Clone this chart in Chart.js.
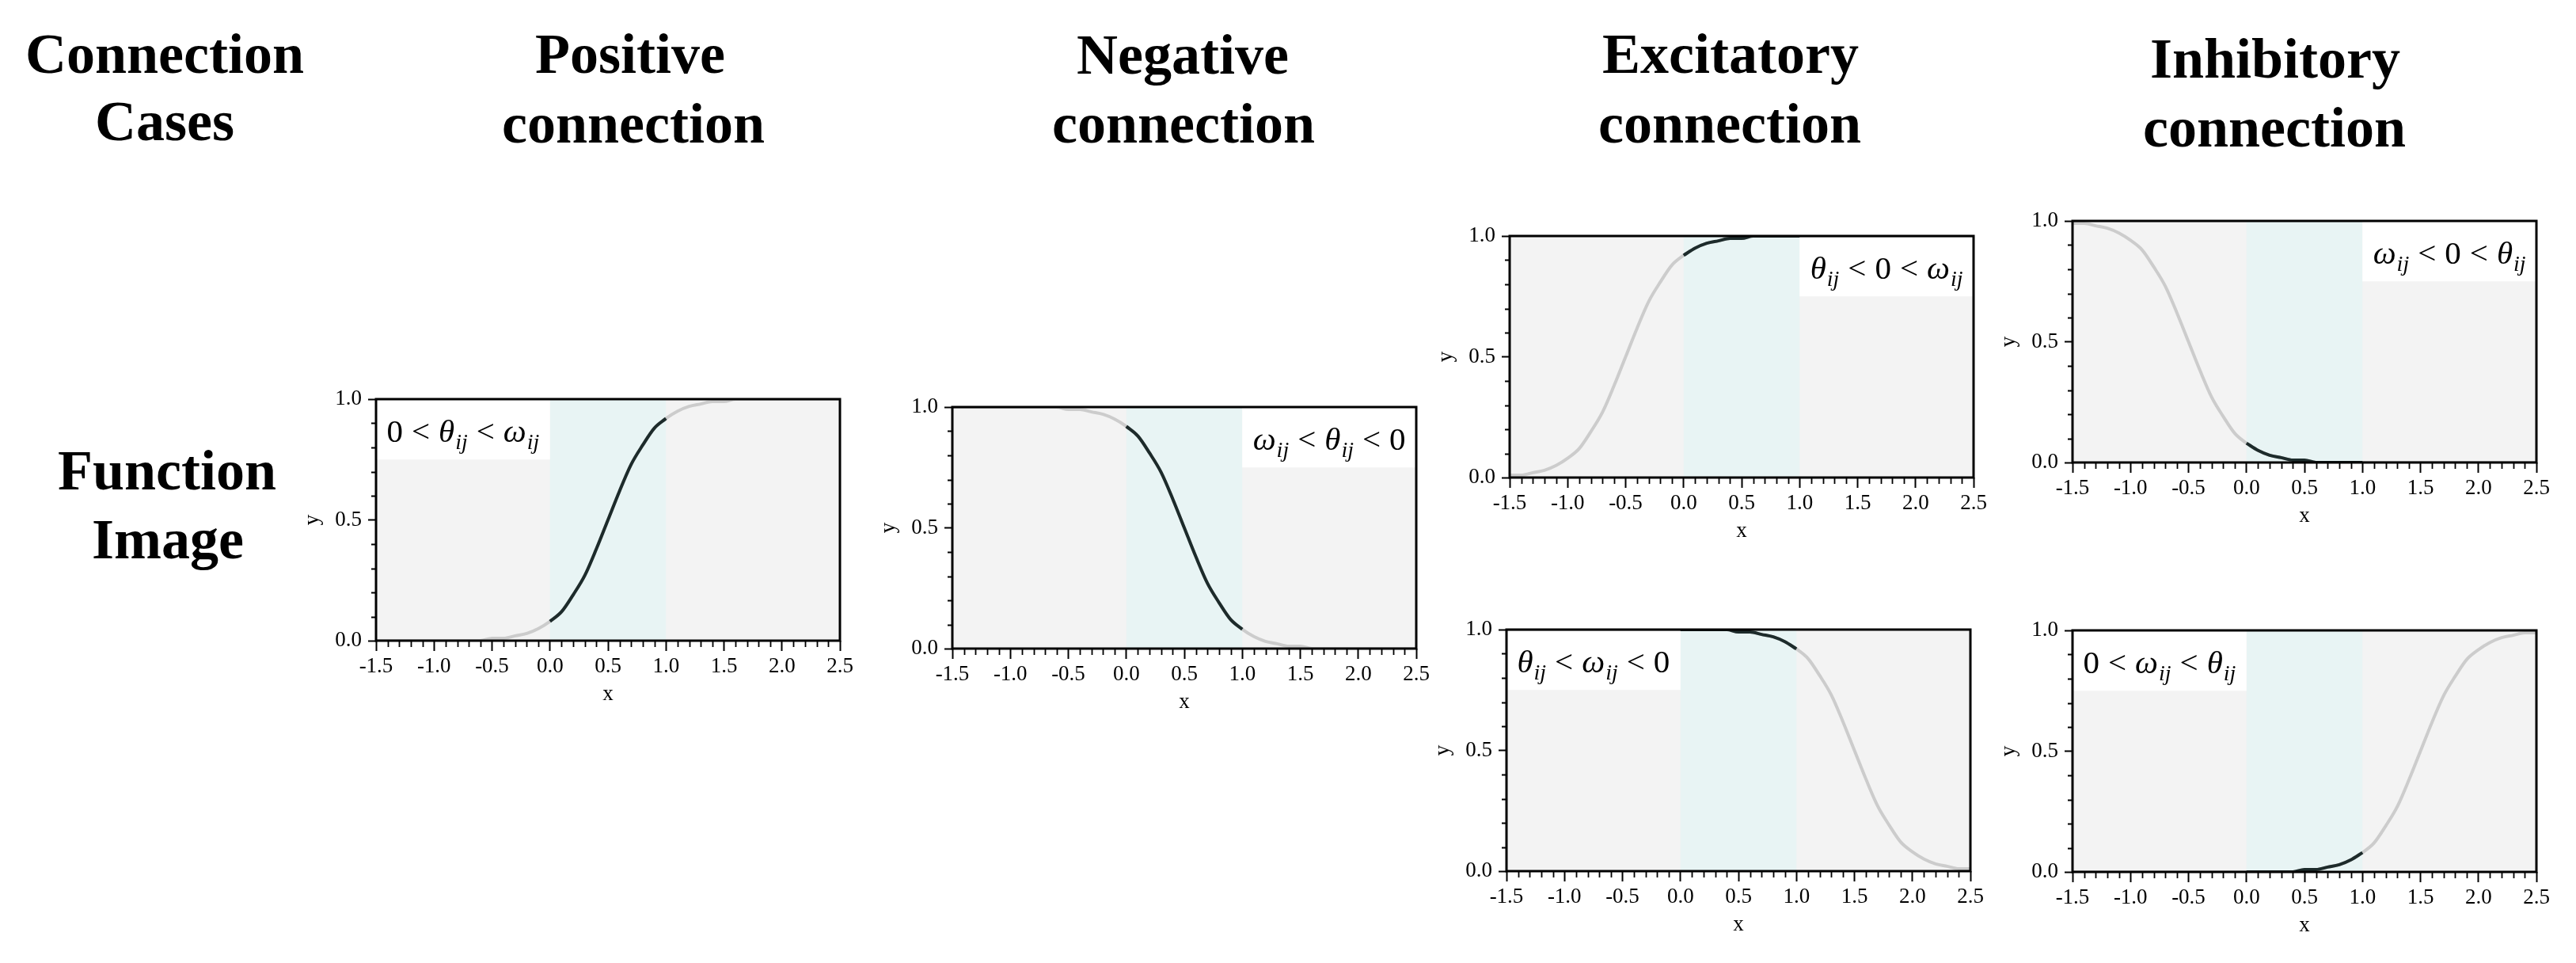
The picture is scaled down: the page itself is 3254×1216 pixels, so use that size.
<!DOCTYPE html>
<html>
<head>
<meta charset="utf-8">
<script src="https://cdn.jsdelivr.net/npm/chart.js@4.4.0/dist/chart.umd.min.js"></script>
<style>
  body { margin: 0; background: #fff; width: 3254px; height: 1216px; position: relative; overflow: hidden; font-family: "Liberation Serif", "Times New Roman", serif; }
  .head { position: absolute; font-weight: bold; font-size: 72px; line-height: 72px; white-space: nowrap; transform: translateX(-50%); color: #000; }
  .panel { position: absolute; }
</style>
</head>
<body>
<script>
const xValues = [
  -1.5, -1.4, -1.3, -1.2, -1.1, -1.0, -0.9, -0.8, -0.7, -0.6,
  -0.5, -0.4, -0.3, -0.2, -0.1, 0.0, 0.1, 0.2, 0.3, 0.4,
  0.5, 0.6, 0.7, 0.8, 0.9, 1.0, 1.1, 1.2, 1.3, 1.4,
  1.5, 1.6, 1.7, 1.8, 1.9, 2.0, 2.1, 2.2, 2.3, 2.4, 2.5
]

// y values per case
const positiveValues = [
  0.00, 0.00, 0.00, 0.00, 0.00, 0.00, 0.00, 0.00, 0.00, 0.00,
  0.01, 0.01, 0.02, 0.03, 0.05, 0.08, 0.12, 0.19, 0.27, 0.38,
  0.50, 0.62, 0.73, 0.81, 0.88, 0.92, 0.95, 0.97, 0.98, 0.99,
  0.99, 1.00, 1.00, 1.00, 1.00, 1.00, 1.00, 1.00, 1.00, 1.00, 1.00
]
const negativeValues = [
  1.00, 1.00, 1.00, 1.00, 1.00, 1.00, 1.00, 1.00, 1.00, 1.00,
  0.99, 0.99, 0.98, 0.97, 0.95, 0.92, 0.88, 0.81, 0.73, 0.62,
  0.50, 0.38, 0.27, 0.19, 0.12, 0.08, 0.05, 0.03, 0.02, 0.01,
  0.01, 0.00, 0.00, 0.00, 0.00, 0.00, 0.00, 0.00, 0.00, 0.00, 0.00
]
const excitatoryAValues = [
  0.01, 0.01, 0.02, 0.03, 0.05, 0.08, 0.12, 0.19, 0.27, 0.38,
  0.50, 0.62, 0.73, 0.81, 0.88, 0.92, 0.95, 0.97, 0.98, 0.99,
  0.99, 1.00, 1.00, 1.00, 1.00, 1.00, 1.00, 1.00, 1.00, 1.00,
  1.00, 1.00, 1.00, 1.00, 1.00, 1.00, 1.00, 1.00, 1.00, 1.00, 1.00
]
const excitatoryBValues = [
  1.00, 1.00, 1.00, 1.00, 1.00, 1.00, 1.00, 1.00, 1.00, 1.00,
  1.00, 1.00, 1.00, 1.00, 1.00, 1.00, 1.00, 1.00, 1.00, 1.00,
  0.99, 0.99, 0.98, 0.97, 0.95, 0.92, 0.88, 0.81, 0.73, 0.62,
  0.50, 0.38, 0.27, 0.19, 0.12, 0.08, 0.05, 0.03, 0.02, 0.01, 0.01
]
const inhibitoryAValues = [
  0.99, 0.99, 0.98, 0.97, 0.95, 0.92, 0.88, 0.81, 0.73, 0.62,
  0.50, 0.38, 0.27, 0.19, 0.12, 0.08, 0.05, 0.03, 0.02, 0.01,
  0.01, 0.00, 0.00, 0.00, 0.00, 0.00, 0.00, 0.00, 0.00, 0.00,
  0.00, 0.00, 0.00, 0.00, 0.00, 0.00, 0.00, 0.00, 0.00, 0.00, 0.00
]
const inhibitoryBValues = [
  0.00, 0.00, 0.00, 0.00, 0.00, 0.00, 0.00, 0.00, 0.00, 0.00,
  0.00, 0.00, 0.00, 0.00, 0.00, 0.00, 0.00, 0.00, 0.00, 0.00,
  0.01, 0.01, 0.02, 0.03, 0.05, 0.08, 0.12, 0.19, 0.27, 0.38,
  0.50, 0.62, 0.73, 0.81, 0.88, 0.92, 0.95, 0.97, 0.98, 0.99, 0.99
]

const xTickLabels = ['-1.5', '-1.0', '-0.5', '0.0', '0.5', '1.0', '1.5', '2.0', '2.5']
const yTickLabels = ['0.0', '0.5', '1.0']

// highlighted input range and the label box ranges
const activeRange = [0, 1]
const leftBox = [-1.5, 0]
const rightBox = [1.0, 2.5]
const boxBottom = 0.75

const headers = [
  { text: 'Connection', x: 208, base: 92 },
  { text: 'Cases', x: 208, base: 177 },
  { text: 'Positive', x: 796, base: 92 },
  { text: 'connection', x: 800, base: 180 },
  { text: 'Negative', x: 1494, base: 93 },
  { text: 'connection', x: 1495, base: 180 },
  { text: 'Excitatory', x: 2186, base: 92 },
  { text: 'connection', x: 2185, base: 180 },
  { text: 'Inhibitory', x: 2874, base: 98 },
  { text: 'connection', x: 2873, base: 185 },
  { text: 'Function', x: 211, base: 618 },
  { text: 'Image', x: 212, base: 705 }
]

const panels = [
  { values: positiveValues,    label: ['0', '<', 'θ_ij', '<', 'ω_ij'], box: leftBox,  left: 475,  top: 504 },
  { values: negativeValues,    label: ['ω_ij', '<', 'θ_ij', '<', '0'], box: rightBox, left: 1203, top: 514 },
  { values: excitatoryAValues, label: ['θ_ij', '<', '0', '<', 'ω_ij'], box: rightBox, left: 1907, top: 298 },
  { values: excitatoryBValues, label: ['θ_ij', '<', 'ω_ij', '<', '0'], box: leftBox,  left: 1903, top: 795 },
  { values: inhibitoryAValues, label: ['ω_ij', '<', '0', '<', 'θ_ij'], box: rightBox, left: 2618, top: 279 },
  { values: inhibitoryBValues, label: ['0', '<', 'ω_ij', '<', 'θ_ij'], box: leftBox,  left: 2618, top: 796 }
]

const PLOT_W = 586
const PLOT_H = 305
const Y_AXIS_W = 100
const X_AXIS_H = 88
const PAD_TOP = 25
const PAD_RIGHT = 40

Chart.defaults.font.family = '"Liberation Serif", "Times New Roman", serif'
Chart.defaults.color = '#000'

headers.forEach(h => {
  const el = document.createElement('div')
  el.className = 'head'
  el.textContent = h.text
  el.style.left = h.x + 'px'
  el.style.top = (h.base - 60) + 'px'
  document.body.appendChild(el)
})

const isMajor = v => Math.abs(v * 2 - Math.round(v * 2)) < 1e-6

function drawMath(ctx, tokens, cx, baseline) {
  const mainFont = '41px "Liberation Serif"'
  const italFont = 'italic 41px "Liberation Serif"'
  const subFont = 'italic 28px "Liberation Serif"'
  const pieces = []
  tokens.forEach(t => {
    if (t === '<') {
      pieces.push({ text: '<', font: mainFont, dy: 0, padL: 11, padR: 11 })
    } else if (t.includes('_')) {
      const [b, s] = t.split('_')
      pieces.push({ text: b, font: italFont, dy: 0, padL: 0, padR: 1 })
      pieces.push({ text: s, font: subFont, dy: 9, padL: 0, padR: 0 })
    } else {
      pieces.push({ text: t, font: mainFont, dy: 0, padL: 0, padR: 0 })
    }
  })
  let total = 0
  pieces.forEach(p => {
    ctx.font = p.font
    p.w = ctx.measureText(p.text).width
    total += p.padL + p.w + p.padR
  })
  let x = cx - total / 2
  ctx.fillStyle = '#000'
  ctx.textBaseline = 'alphabetic'
  ctx.textAlign = 'left'
  pieces.forEach(p => {
    ctx.font = p.font
    x += p.padL
    ctx.fillText(p.text, x, baseline + p.dy)
    x += p.w + p.padR
  })
}

const panelPlugin = {
  id: 'panelDecor',
  beforeDatasetsDraw(chart, args, opts) {
    const { ctx, chartArea: a, scales: { x, y } } = chart
    ctx.save()
    ctx.fillStyle = '#f3f3f3'
    ctx.fillRect(a.left, a.top, a.width, a.height)
    const x0 = x.getPixelForValue(activeRange[0])
    const x1 = x.getPixelForValue(activeRange[1])
    ctx.fillStyle = '#e8f4f4'
    ctx.fillRect(x0, a.top, x1 - x0, a.height)
    const bx0 = x.getPixelForValue(opts.box[0])
    const bx1 = x.getPixelForValue(opts.box[1])
    const by0 = y.getPixelForValue(1)
    const by1 = y.getPixelForValue(boxBottom)
    ctx.fillStyle = '#ffffff'
    ctx.fillRect(bx0, by0, bx1 - bx0, by1 - by0)
    ctx.restore()
  },
  afterDatasetsDraw(chart, args, opts) {
    const { ctx, chartArea: a, scales: { x } } = chart
    const cx = (x.getPixelForValue(opts.box[0]) + x.getPixelForValue(opts.box[1])) / 2
    ctx.save()
    drawMath(ctx, opts.label, cx, a.top + 54)
    ctx.restore()
  },
  afterDraw(chart) {
    const { ctx, chartArea: a, scales: { x, y } } = chart
    ctx.save()
    ctx.strokeStyle = '#000'
    ctx.lineWidth = 3
    ctx.strokeRect(a.left, a.top, a.width, a.height)
    ctx.lineWidth = 1.8
    ctx.beginPath()
    x.ticks.forEach(t => {
      if (isMajor(t.value)) return
      const px = Math.round(x.getPixelForValue(t.value)) + 0.5
      ctx.moveTo(px, a.bottom)
      ctx.lineTo(px, a.bottom + 8)
    })
    y.ticks.forEach(t => {
      if (isMajor(t.value)) return
      const py = Math.round(y.getPixelForValue(t.value)) + 0.5
      ctx.moveTo(a.left, py)
      ctx.lineTo(a.left - 6, py)
    })
    ctx.stroke()
    ctx.restore()
  }
}

panels.forEach(p => {
  const wrap = document.createElement('div')
  wrap.className = 'panel'
  const w = Y_AXIS_W + PLOT_W + PAD_RIGHT
  const h = PAD_TOP + PLOT_H + X_AXIS_H
  wrap.style.left = (p.left - Y_AXIS_W) + 'px'
  wrap.style.top = (p.top - PAD_TOP) + 'px'
  const canvas = document.createElement('canvas')
  canvas.width = w
  canvas.height = h
  wrap.appendChild(canvas)
  document.body.appendChild(wrap)

  const points = xValues.map((x, i) => ({ x, y: p.values[i] }))
  const active = points.filter(pt => pt.x >= activeRange[0] - 1e-9 && pt.x <= activeRange[1] + 1e-9)

  new Chart(canvas.getContext('2d'), {
    type: 'line',
    data: {
      datasets: [
        {
          data: active,
          borderColor: '#1d2b2b',
          borderWidth: 4,
          pointRadius: 0,
          cubicInterpolationMode: 'monotone'
        },
        {
          data: points,
          borderColor: '#cccccc',
          borderWidth: 4,
          pointRadius: 0,
          cubicInterpolationMode: 'monotone'
        }
      ]
    },
    options: {
      responsive: false,
      animation: false,
      events: [],
      layout: { padding: { top: PAD_TOP, right: PAD_RIGHT, left: 0, bottom: 0 } },
      plugins: {
        legend: { display: false },
        tooltip: { enabled: false },
        panelDecor: { box: p.box, label: p.label }
      },
      scales: {
        x: {
          type: 'linear',
          min: -1.5,
          max: 2.5,
          afterFit: s => { s.height = X_AXIS_H },
          border: { display: false },
          grid: {
            drawOnChartArea: false,
            tickLength: 13,
            tickWidth: 2,
            tickColor: c => isMajor(c.tick.value) ? '#000' : 'rgba(0,0,0,0)'
          },
          ticks: {
            stepSize: 0.1,
            autoSkip: false,
            maxRotation: 0,
            minRotation: 0,
            padding: 4,
            font: { size: 27 },
            color: '#000',
            callback: v => isMajor(v) ? xTickLabels[Math.round((v + 1.5) * 2)] : ''
          },
          title: { display: true, text: 'x', font: { size: 27 }, color: '#000', padding: { top: 0, bottom: 4 } }
        },
        y: {
          min: 0,
          max: 1,
          afterFit: s => { s.width = Y_AXIS_W },
          border: { display: false },
          grid: {
            drawOnChartArea: false,
            tickLength: 10,
            tickWidth: 2,
            tickColor: c => isMajor(c.tick.value) ? '#000' : 'rgba(0,0,0,0)'
          },
          ticks: {
            stepSize: 0.1,
            autoSkip: false,
            padding: 8,
            font: { size: 27 },
            color: '#000',
            callback: v => isMajor(v) ? yTickLabels[Math.round(v * 2)] : ''
          },
          title: { display: true, text: 'y', font: { size: 27 }, color: '#000', padding: { top: 4, bottom: 0 } }
        }
      }
    },
    plugins: [panelPlugin]
  })
})
</script>
</body>
</html>
